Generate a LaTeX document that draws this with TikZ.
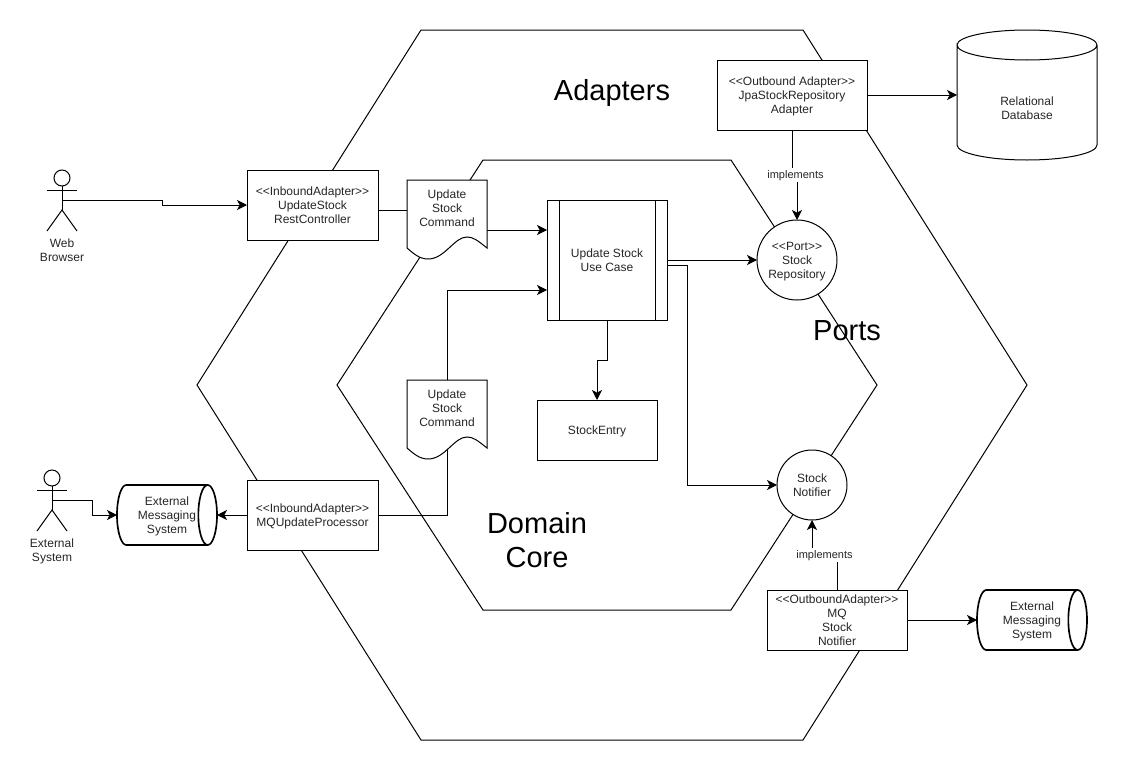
\documentclass[tikz,border=0pt]{standalone}
\usepackage{fontspec}
\setmainfont{Liberation Sans}
\usetikzlibrary{arrows.meta}

\tikzset{
  every node/.style={align=center, inner sep=0pt, outer sep=0pt, text=black!85, text depth=-2.5pt,
    font=\fontsize{9}{10.5}\selectfont},
  boxnode/.style={draw, fill=white, text=black!85},
  portnode/.style={draw, fill=white, circle},
  headtext/.style={text=black, font=\fontsize{21.75}{25.5}\selectfont},
  smalltext/.style={fill=white, inner xsep=1pt, inner ysep=2pt, font=\fontsize{8.25}{10}\selectfont},
  actorbox/.style={minimum width=22.5pt, minimum height=45pt},
  queuebox/.style={minimum height=45pt},
  queueline/.style={line width=1.25pt, line join=round},
  conn/.style={-{Stealth[length=7.5pt, width=7.5pt, inset=2pt]}}
}

% double angle brackets, no ligature
\newcommand\stereo[1]{<{}<#1>{}>}

% stick figure, named node at the middle of it
\newcommand\actorfig[2]{
  \begin{scope}[shift={(#2)}]
    \node[actorbox] (#1) at (0,0) {};
    \draw (0,-22) circle[radius=6pt];
    \draw (0,-14) -- (0,10);
    \draw (-15,-10) -- (15,-10);
    \draw (-15,31) -- (0,10) -- (15,31);
  \end{scope}
}

% command document with the wavy lower edge
\newcommand\cmddoc[2]{
  \begin{scope}[shift={(#2)}]
    \draw[fill=white] (0,0) -- (80,0) -- (80,68)
      .. controls (70,60) and (66,57) .. (60,57)
      .. controls (47,57) and (38,79) .. (21,79)
      .. controls (12,79) and (6,73) .. (0,68) -- cycle
      node (#1) at (40,28) {Update\\Stock\\Command};
  \end{scope}
}

% lying cylinder around a node
\newcommand\queuebody[1]{
  \draw[queueline] ([xshift=-7pt]#1.north east) -- ([xshift=7pt]#1.north west)
    arc[start angle=90, end angle=270, x radius=7pt, y radius=22.5pt]
    -- ([xshift=-7pt]#1.south east);
  \draw[queueline] ([xshift=-7pt]#1.east) ellipse[x radius=7pt, y radius=22.5pt];
}

\begin{document}
\begin{tikzpicture}[x=0.75pt, y=-0.75pt, line width=0.75pt]
    \useasboundingbox (0,0) rectangle (1128,771);

    % hexagons
    \draw (421,30) -- (803,30) -- (1027,385) -- (803,740) -- (421,740) -- (197,385) -- cycle;
    \draw (483,160) -- (731,160) -- (877,385) -- (731,610) -- (483,610) -- (337,385) -- cycle;

    % headings
    \node[headtext] (adaptersText) at (612,90) {Adapters};
    \node[headtext] (portsText) at (847,331) {Ports};
    \node[headtext] (coreText) at (537,540) {Domain\\Core};

    % boxes
    \node[boxnode, minimum width=98.25pt, minimum height=52.5pt] (restAdapter) at (312.5,205)
      {\stereo{InboundAdapter}\\UpdateStock\\RestController};
    \node[boxnode, minimum width=98.25pt, minimum height=52.5pt] (mqAdapter) at (312.5,515)
      {\stereo{InboundAdapter}\\MQUpdateProcessor};
    \node[boxnode, minimum width=90pt, minimum height=90pt] (useCase) at (607,260)
      {Update Stock\\Use Case};
    \node[boxnode, minimum width=90pt, minimum height=45pt] (stockEntry) at (597,430) {StockEntry};
    \node[boxnode, minimum width=112.5pt, minimum height=52.5pt] (jpaAdapter) at (792,95)
      {\stereo{Outbound Adapter}\\JpaStockRepository\\Adapter};
    \node[boxnode, minimum width=105pt, minimum height=45pt] (notifierAdapter) at (837,620)
      {\stereo{OutboundAdapter}\\MQ\\Stock\\Notifier};
    \node[portnode, minimum size=60pt] (stockRepo) at (797,260) {\stereo{Port}\\Stock\\Repository};
    \node[portnode, minimum size=52.5pt] (stockNotifier) at (812,485) {Stock\\Notifier};

    % bars of the use case
    \draw ([xshift=9pt]useCase.north west) -- ([xshift=9pt]useCase.south west);
    \draw ([xshift=-9pt]useCase.north east) -- ([xshift=-9pt]useCase.south east);

    % actors
    \actorfig{webBrowser}{62,200}
    \actorfig{extSystem}{52,500}
    \node (webText) at (62,250) {Web\\Browser};
    \node (extText) at (52,550) {External\\System};

    % cylinders
    \node[queuebox, minimum width=75pt] (queueIn) at (167,515) {External\\Messaging\\System};
    \node[queuebox, minimum width=82.5pt] (queueOut) at (1032,620) {External\\Messaging\\System};
    \queuebody{queueIn}
    \queuebody{queueOut}

    % database
    \node[minimum width=105pt, minimum height=97.5pt] (database) at (1027,95) {};
    \node (databaseText) at (1027,108) {Relational\\Database};
    \draw (database.north west) ++(0,15) arc[start angle=180, end angle=-180, x radius=52.5pt, y radius=11.25pt]
      -- (database.south west |- 957,145)
      arc[start angle=180, end angle=360, x radius=52.5pt, y radius=11.25pt]
      -- (1097,45);

    % connectors into the core
    \draw[conn] (webBrowser.center) -- ++(100,0) |- (restAdapter.west);
    \draw[conn] (extSystem.center) -- ++(40,0) |- (queueIn.west);
    \draw[conn] (mqAdapter.west) -- (queueIn.east);
    \draw[conn] ([yshift=-3.75pt]restAdapter.east) -- ++(69,0) |- ([yshift=22.5pt]useCase.west);
    \draw[conn] (mqAdapter.east) -- ++(69,0) |- ([yshift=-22.5pt]useCase.west);

    % connectors out of the use case
    \draw[conn] (useCase.east) -- (stockRepo.west);
    \draw[conn] ([yshift=-3.75pt]useCase.east) -- ++(20,0) |- (stockNotifier.west);
    \draw[conn] (useCase.south) -- ++(0,40) -| (stockEntry.north);

    % outbound adapters
    \draw[conn] (jpaAdapter.east) -- (database.west);
    \draw[conn] (notifierAdapter.east) -- (queueOut.west);
    \draw[conn] (jpaAdapter.south) -- ++(0,45) -| (stockRepo.north);
    \draw[conn] (notifierAdapter.north) -- ++(0,-35) -| (stockNotifier.south);
    \node[smalltext] (implRepo) at (795.5,175) {implements};
    \node[smalltext] (implNotifier) at (824.5,555) {implements};

    % documents on top of the lines
    \cmddoc{restDoc}{407,180}
    \cmddoc{mqDoc}{407,380}
  \end{tikzpicture}
\end{document}
